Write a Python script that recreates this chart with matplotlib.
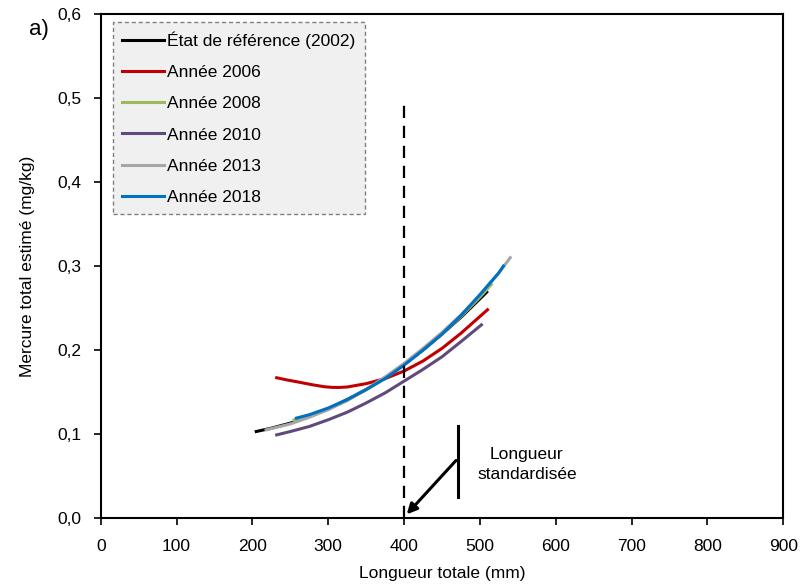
import matplotlib
matplotlib.use("Agg")
import matplotlib.pyplot as plt
from matplotlib.ticker import FuncFormatter

plt.rcParams['font.family'] = ['Liberation Sans Narrow', 'Liberation Sans', 'DejaVu Sans']

# values (length mm, estimated total mercury mg/kg)
x_2002 = [205, 225, 250, 275, 300, 325, 350, 375, 400, 425, 450, 475, 500, 509]
y_2002 = [0.103, 0.107, 0.113, 0.121, 0.130, 0.141, 0.153, 0.167, 0.183, 0.200, 0.219, 0.239, 0.261, 0.269]

x_2006 = [232, 245, 260, 280, 295, 306, 315, 325, 350, 375, 400, 425, 450, 475, 500, 510]
y_2006 = [0.167, 0.1645, 0.162, 0.1585, 0.1563, 0.1555, 0.1555, 0.156, 0.160, 0.166, 0.175, 0.187, 0.202, 0.220, 0.240, 0.248]

x_2008 = [255, 275, 300, 325, 350, 375, 400, 425, 450, 475, 500, 515]
y_2008 = [0.117, 0.122, 0.130, 0.140, 0.153, 0.167, 0.183, 0.200, 0.219, 0.240, 0.263, 0.278]

x_2010 = [232, 250, 275, 300, 325, 350, 375, 400, 425, 450, 475, 502]
y_2010 = [0.099, 0.103, 0.109, 0.117, 0.126, 0.137, 0.149, 0.163, 0.177, 0.192, 0.210, 0.230]

x_2013 = [218, 250, 275, 300, 325, 350, 375, 400, 425, 450, 475, 500, 525, 540]
y_2013 = [0.105, 0.112, 0.120, 0.129, 0.140, 0.153, 0.168, 0.184, 0.202, 0.221, 0.242, 0.265, 0.292, 0.310]

x_2018 = [258, 275, 300, 325, 350, 375, 400, 425, 450, 475, 500, 525, 531]
y_2018 = [0.119, 0.123, 0.131, 0.141, 0.153, 0.166, 0.182, 0.200, 0.219, 0.241, 0.266, 0.292, 0.300]

fig = plt.figure(figsize=(8, 5.87), dpi=100)
ax = fig.add_axes([0.126, 0.1175, 0.853, 0.8585])

lw = 2.2
ax.plot(x_2002, y_2002, color='black', lw=lw, label='État de référence (2002)')
ax.plot(x_2006, y_2006, color='#C00000', lw=lw, label='Année 2006')
ax.plot(x_2008, y_2008, color='#9BBB59', lw=lw, label='Année 2008')
ax.plot(x_2010, y_2010, color='#604A7B', lw=lw, label='Année 2010')
ax.plot(x_2013, y_2013, color='#A6A6A6', lw=lw, label='Année 2013')
ax.plot(x_2018, y_2018, color='#0070C0', lw=lw, label='Année 2018')

# standardised length marker
ax.plot([400, 400], [0, 0.5], color='black', lw=1.6, ls=(0, (5.5, 3.5)))
ax.plot([471, 471], [0.025, 0.1095], color='black', lw=2.2)
ax.annotate('', xy=(401, 0.002), xytext=(471, 0.071),
            arrowprops=dict(arrowstyle='-|>', color='black', lw=2.2, mutation_scale=15))
ax.text(562, 0.064, 'Longueur\nstandardisée', ha='center', va='center', fontsize=12.5, linespacing=1.45)

ax.set_xlim(0, 900)
ax.set_ylim(0, 0.6)
ax.set_xticks(range(0, 901, 100))
ax.set_yticks([0, 0.1, 0.2, 0.3, 0.4, 0.5, 0.6])
ax.yaxis.set_major_formatter(FuncFormatter(lambda v, p: f'{v:.1f}'.replace('.', ',')))
ax.tick_params(direction='out', length=5, width=1.2, labelsize=12.5)
ax.tick_params(axis='x', pad=10)
ax.tick_params(axis='y', pad=9)
for s in ax.spines.values():
    s.set_linewidth(1.5)

ax.set_xlabel('Longueur totale (mm)', fontsize=12.5, labelpad=9)
ax.set_ylabel('Mercure total estimé (mg/kg)', fontsize=12.5, labelpad=16)

leg = ax.legend(loc='upper left', bbox_to_anchor=(0.0176, 0.984), borderaxespad=0,
                fontsize=12.5, frameon=True, fancybox=False, handlelength=2.4,
                handletextpad=0.2, labelspacing=0.92, borderpad=0.55)
frame = leg.get_frame()
frame.set_facecolor('#F0F0F0')
frame.set_edgecolor('#808080')
frame.set_linestyle((0, (3, 2)))
frame.set_linewidth(1)
frame.set_alpha(1)

fig.text(0.036, 0.95, 'a)', fontsize=16, ha='left', va='center')

fig.savefig('out.png', dpi=100)
